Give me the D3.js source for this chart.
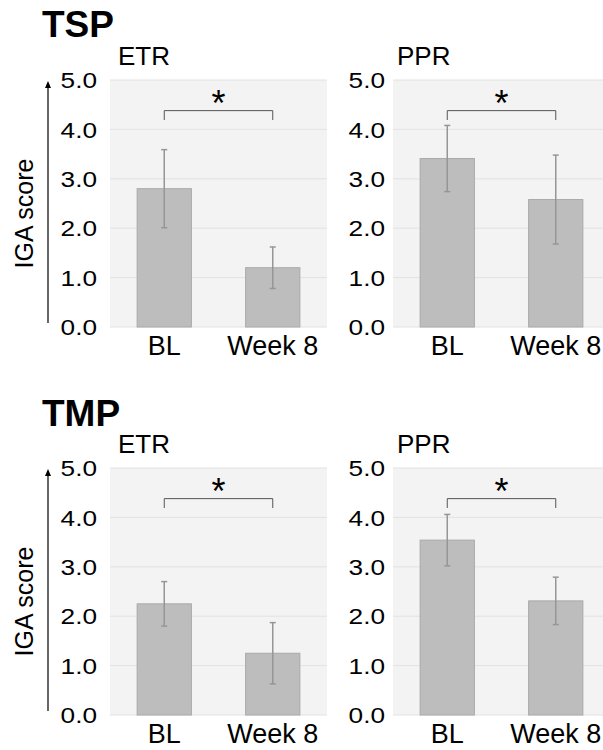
<!DOCTYPE html>
<html lang="en">
<head>
    <meta charset="UTF-8"/>
    <title>IGA score TSP / TMP</title>
    <script src="https://d3js.org/d3.v7.min.js"></script>
    <style>
        body { margin: 0; background: #fff; }
        text { font-family: "Liberation Sans", Arial, sans-serif; }
    </style>
</head>
<body>
<div id="chart"></div>
<script>
    // data
    var groups = ["TSP", "TMP"];
    var panels = ["ETR", "PPR"];
    var categories = ["BL", "Week 8"];
    var yTicks = [0, 1, 2, 3, 4, 5];

    // bar means and error (SD) for BL / Week 8
    var tspEtrMean = [2.8, 1.2];
    var tspEtrErr = [0.79, 0.42];
    var tspPprMean = [3.41, 2.58];
    var tspPprErr = [0.67, 0.9];
    var tmpEtrMean = [2.25, 1.25];
    var tmpEtrErr = [0.45, 0.62];
    var tmpPprMean = [3.54, 2.31];
    var tmpPprErr = [0.52, 0.48];

    var bracketTop = 4.38;
    var bracketLeg = 4.19;
    var starLevel = 4.62;

    var width = 603, height = 750;
    var stretch = 1.22; // tick labels look horizontally stretched

    var svg = d3.select("#chart").append("svg")
        .attr("width", width).attr("height", height);

    var rows = [
        {title: groups[0], titleY: 37, top: 80, bottom: 327,
         series: [[tspEtrMean, tspEtrErr], [tspPprMean, tspPprErr]]},
        {title: groups[1], titleY: 426, top: 468, bottom: 715,
         series: [[tmpEtrMean, tmpEtrErr], [tmpPprMean, tmpPprErr]]}
    ];
    // plot x positions per column
    var cols = [
        {left: 110, right: 327, tickGap: 13, labelDx: 8},
        {left: 393, right: 610, tickGap: 8, labelDx: 4}
    ];

    rows.forEach(function (row) {
        // group title
        svg.append("text").text(row.title)
            .attr("x", 42).attr("y", row.titleY)
            .attr("font-size", 37).attr("font-weight", "bold").attr("fill", "#000");

        var yScale = d3.scaleLinear().domain([0, 5]).range([row.bottom, row.top]);

        // y axis arrow + title
        svg.append("line")
            .attr("x1", 48).attr("x2", 48)
            .attr("y1", row.bottom - 4).attr("y2", row.top + 6)
            .attr("stroke", "#000").attr("stroke-width", 1.2);
        svg.append("path")
            .attr("d", "M48," + (row.top + 1) + " L45," + (row.top + 8) + " L51," + (row.top + 8) + " Z")
            .attr("fill", "#000");
        svg.append("text").text("IGA score")
            .attr("transform", "translate(33," + ((row.top + row.bottom) / 2 + 10) + ") rotate(-90)")
            .attr("text-anchor", "middle")
            .attr("font-size", 25).attr("fill", "#000");

        cols.forEach(function (col, ci) {
            var mean = row.series[ci][0];
            var err = row.series[ci][1];
            var xScale = d3.scaleBand().domain(categories)
                .range([col.left, col.right]).paddingInner(0.5).paddingOuter(0.25);

            var g = svg.append("g");

            // background
            g.append("rect")
                .attr("x", col.left).attr("y", row.top)
                .attr("width", col.right - col.left).attr("height", row.bottom - row.top)
                .attr("fill", "#f3f3f3");

            // gridlines
            g.selectAll(".grid").data(yTicks).enter().append("line")
                .attr("x1", col.left).attr("x2", col.right)
                .attr("y1", function (d) { return yScale(d); })
                .attr("y2", function (d) { return yScale(d); })
                .attr("stroke", "#e2e2e2").attr("stroke-width", 1);

            // y tick labels
            var yAxis = d3.axisLeft(yScale).tickValues(yTicks).tickSize(0)
                .tickFormat(d3.format(".1f"));
            var ya = g.append("g").attr("transform", "translate(" + col.left + ",0)").call(yAxis);
            ya.select(".domain").remove();
            ya.selectAll("text")
                .attr("x", -col.tickGap / stretch)
                .attr("dy", "0.36em")
                .attr("transform", "scale(" + stretch + ",1)")
                .attr("font-size", 21.5).attr("fill", "#000")
                .style("font-family", "Liberation Sans, Arial, sans-serif");

            // x labels
            var xAxis = d3.axisBottom(xScale).tickSize(0).tickPadding(0);
            var xa = g.append("g").attr("transform", "translate(0," + row.bottom + ")").call(xAxis);
            xa.select(".domain").remove();
            xa.selectAll("text").attr("y", 28).attr("dy", 0)
                .attr("font-size", 27).attr("fill", "#000")
                .style("font-family", "Liberation Sans, Arial, sans-serif");

            // panel label
            g.append("text").text(panels[ci])
                .attr("x", col.left + col.labelDx).attr("y", row.top - 15)
                .attr("font-size", 26).attr("fill", "#000");

            // bars
            g.selectAll(".bar").data(mean).enter().append("rect")
                .attr("x", function (d, i) { return xScale(categories[i]); })
                .attr("y", function (d) { return yScale(d); })
                .attr("width", xScale.bandwidth())
                .attr("height", function (d) { return yScale(0) - yScale(d); })
                .attr("fill", "#bdbdbd").attr("stroke", "#a9a9a9").attr("stroke-width", 1);

            // error bars
            var cx = function (i) { return xScale(categories[i]) + xScale.bandwidth() / 2; };
            mean.forEach(function (m, i) {
                var x = cx(i);
                var hi = yScale(m + err[i]), lo = yScale(m - err[i]);
                g.append("line").attr("x1", x).attr("x2", x).attr("y1", hi).attr("y2", lo)
                    .attr("stroke", "#969696").attr("stroke-width", 1.5);
                [hi, lo].forEach(function (yy) {
                    g.append("line").attr("x1", x - 3).attr("x2", x + 3).attr("y1", yy).attr("y2", yy)
                        .attr("stroke", "#969696").attr("stroke-width", 1.5);
                });
            });

            // significance bracket
            var x0 = cx(0), x1 = cx(1);
            g.append("path")
                .attr("d", "M" + x0 + "," + yScale(bracketLeg) + " V" + yScale(bracketTop) +
                    " H" + x1 + " V" + yScale(bracketLeg))
                .attr("fill", "none").attr("stroke", "#555").attr("stroke-width", 1);
            g.append("text").text("*")
                .attr("x", (x0 + x1) / 2).attr("y", yScale(starLevel) + 17)
                .attr("text-anchor", "middle")
                .attr("font-size", 36).attr("fill", "#000");
        });
    });
</script>
</body>
</html>
